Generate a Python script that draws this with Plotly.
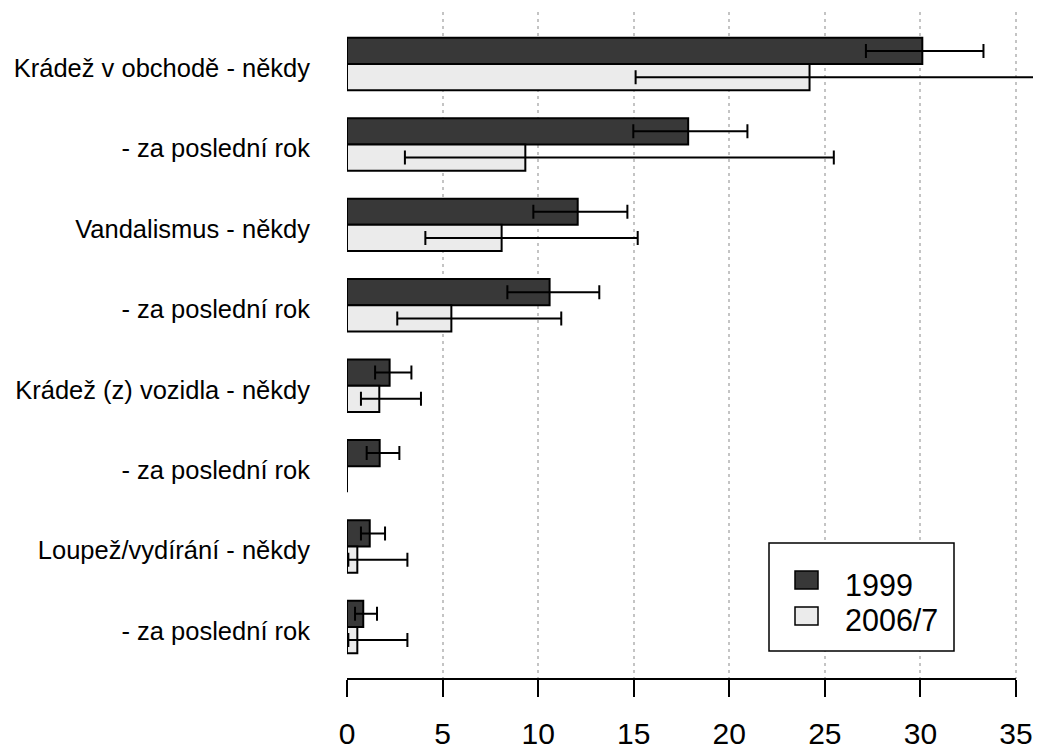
import plotly.graph_objects as go

categories = [
    "Krádež v obchodě - někdy",
    "- za poslední rok",
    "Vandalismus - někdy",
    "- za poslední rok",
    "Krádež (z) vozidla - někdy",
    "- za poslední rok",
    "Loupež/vydírání - někdy",
    "- za poslední rok",
]
series_names = ["1999", "2006/7"]
values_1999 = [30.1, 17.85, 12.07, 10.6, 2.23, 1.71, 1.19, 0.85]
low_1999 = [27.15, 14.98, 9.75, 8.39, 1.47, 1.03, 0.73, 0.42]
high_1999 = [33.3, 20.95, 14.67, 13.2, 3.37, 2.74, 1.99, 1.57]
values_2006 = [24.2, 9.33, 8.09, 5.46, 1.69, 0.0, 0.54, 0.54]
low_2006 = [15.1, 3.03, 4.10, 2.63, 0.73, 0.0, 0.07, 0.07]
high_2006 = [36.25, 25.47, 15.21, 11.21, 3.87, 0.0, 3.16, 3.16]
x_ticks = [0, 5, 10, 15, 20, 25, 30, 35]

colors = ["#383838", "#ebebeb"]

W, H = 1041, 751
OFF = 8  # page body margin offset
# plot-area frame in page pixels, converted to figure pixels
L, R, T, B = 347 - OFF, 1041 - OFF, 12 - OFF, 679 - OFF


def px(x):
    return (x - OFF - L) / (R - L)


def py(y):
    return (B - (y - OFF)) / (B - T)


idx = list(range(len(categories)))

fig = go.Figure()
for name, vals, lo, hi, col in [
    (series_names[0], values_1999, low_1999, high_1999, colors[0]),
    (series_names[1], values_2006, low_2006, high_2006, colors[1]),
]:
    fig.add_trace(go.Bar(
        y=idx, x=vals, orientation="h", name=name,
        marker=dict(color=col, line=dict(color="black", width=2)),
        error_x=dict(type="data", symmetric=False,
                     array=[h - v for h, v in zip(hi, vals)],
                     arrayminus=[v - l for v, l in zip(vals, lo)],
                     color="black", thickness=2, width=7),
        showlegend=False,
    ))

fig.update_layout(
    width=W, height=H,
    margin=dict(l=L, r=W - R, t=T, b=H - B),
    paper_bgcolor="white", plot_bgcolor="white",
    barmode="group", bargap=0.348, bargroupgap=0,
    font=dict(family="Liberation Sans, Arial, sans-serif", color="black"),
    xaxis=dict(
        range=[0, 36.31], tickvals=x_ticks, ticktext=[str(t) for t in x_ticks],
        showgrid=True, gridcolor="#c4c4c4", gridwidth=1.5, griddash="3px,4px",
        zeroline=False, showline=False, automargin=False,
        ticks="outside", ticklen=17, tickwidth=2, tickcolor="black",
        tickfont=dict(size=30), ticklabelstandoff=11,
    ),
    yaxis=dict(
        range=[7.647, -0.647], tickvals=idx, ticktext=categories,
        showgrid=False, zeroline=False, showline=False, ticks="", automargin=False,
        tickfont=dict(size=25.5), ticklabelstandoff=36, ticklabelshift=-4,
    ),
)

# axis line from 0 to 35
fig.add_shape(type="line", xref="x", yref="paper", x0=0, x1=35, y0=0, y1=0,
              line=dict(color="black", width=2))

# legend (drawn manually)
fig.add_shape(type="rect", xref="paper", yref="paper",
              x0=px(769), x1=px(954), y0=py(651), y1=py(543),
              line=dict(color="black", width=1.5), fillcolor="white")
for name, col, y0, y1, ty in [
    (series_names[0], colors[0], 571, 589, 585),
    (series_names[1], colors[1], 607, 625, 619.5),
]:
    fig.add_shape(type="rect", xref="paper", yref="paper",
                  x0=px(795), x1=px(818), y0=py(y1), y1=py(y0),
                  line=dict(color="black", width=1.5), fillcolor=col)
    fig.add_annotation(xref="paper", yref="paper", x=px(843), y=py(ty),
                       text=name, showarrow=False, xanchor="left", yanchor="middle",
                       font=dict(size=30.5, color="black"))

fig.write_html("out.html")
